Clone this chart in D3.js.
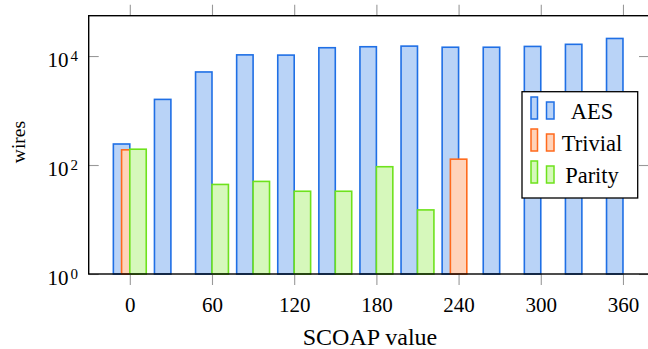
<!DOCTYPE html>
<html>
<head>
<meta charset="utf-8">
<script src="https://cdn.jsdelivr.net/npm/d3@7"></script>
<style>
  body { margin: 0; background: #fff; }
</style>
</head>
<body>
<div id="chart"></div>
<script>
// SCOAP value bins and the wire counts of each circuit
const categories = [0, 30, 60, 90, 120, 150, 180, 210, 240, 270, 300, 330, 360];
const aesValues = [243, 1600, 5100, 10500, 10400, 14200, 14800, 15200, 14500, 14500, 15000, 16400, 21000];
const trivialValues = [190, null, null, null, null, null, null, null, 128, null, null, null, null];
const parityValues = [195, null, 44, 50, 33, 33, 93, 15, null, null, null, null, null];
const seriesNames = ["AES", "Trivial", "Parity"];
const xTicks = [0, 60, 120, 180, 240, 300, 360];
const yTicks = [1, 100, 10000];
const yExponents = ["0", "2", "4"];

const FONT = "'Liberation Serif', 'Times New Roman', Times, serif";
const W = 648, H = 349;
const margin = {top: 15.7, right: -1, bottom: 75, left: 88.7};
const width = W - margin.left - margin.right,
    height = H - margin.top - margin.bottom;

const x = d3.scaleLinear().domain([-30, 379]).range([0, width]);
const y = d3.scaleLog().domain([1, Math.pow(10, 4.74)]).range([height, 0]);

const colors = [
  {stroke: "#1f6fe5", fill: "#b9d3f7"},
  {stroke: "#ff6a1c", fill: "#ffd3ba"},
  {stroke: "#6ee21c", fill: "#d6f8bb"}
];

const barW = x(12) - x(0);
const shifts = [-barW, -barW / 2, 0]; // left edge offset relative to category centre

const svg = d3.select("#chart").append("svg")
    .attr("width", W)
    .attr("height", H)
    .attr("font-family", FONT);

const g = svg.append("g")
    .attr("transform", "translate(" + margin.left + "," + margin.top + ")");

// bars
const seriesData = [aesValues, trivialValues, parityValues];
seriesData.forEach((vals, i) => {
  const rows = categories.map((c, j) => ({c: c, v: vals[j]})).filter(d => d.v != null);
  g.selectAll(".bar-" + i)
    .data(rows)
    .enter().append("rect")
      .attr("class", "bar-" + i)
      .attr("x", d => x(d.c) + shifts[i])
      .attr("y", d => y(d.v))
      .attr("width", barW)
      .attr("height", d => height - y(d.v))
      .attr("fill", colors[i].fill)
      .attr("stroke", colors[i].stroke)
      .attr("stroke-width", 1.6);
});

// axes
const tickColor = "#999";
const xBottom = g.append("g")
    .attr("transform", "translate(0," + height + ")")
    .call(d3.axisBottom(x).tickValues(xTicks).tickSize(11).tickSizeOuter(0).tickPadding(12));
const xTop = g.append("g")
    .call(d3.axisTop(x).tickValues(xTicks).tickSize(11).tickSizeOuter(0).tickFormat(""));
const yLeft = g.append("g")
    .call(d3.axisLeft(y).tickValues(yTicks).tickSize(-10).tickSizeOuter(0).tickFormat(""));
const yRight = g.append("g")
    .attr("transform", "translate(" + width + ",0)")
    .call(d3.axisRight(y).tickValues(yTicks).tickSize(-10).tickSizeOuter(0).tickFormat(""));

[xBottom, xTop, yLeft, yRight].forEach(a => {
  a.attr("font-family", FONT);
  a.select(".domain").remove();
  a.selectAll(".tick line").attr("stroke", tickColor).attr("stroke-width", 1.1);
});
xBottom.selectAll(".tick text")
    .attr("font-size", 21)
    .attr("fill", "#000");

// y tick labels as powers of ten
yTicks.forEach((t, i) => {
  const lab = g.append("text")
      .attr("x", 78 - margin.left)
      .attr("y", y(t) + 11)
      .attr("text-anchor", "end")
      .attr("font-size", 21);
  lab.append("tspan").text("10");
  lab.append("tspan")
      .attr("dx", 2)
      .attr("dy", -6)
      .attr("font-size", 15)
      .text(yExponents[i]);
});

// frame
g.append("rect")
    .attr("x", 0).attr("y", 0)
    .attr("width", width).attr("height", height)
    .attr("fill", "none")
    .attr("stroke", "#000")
    .attr("stroke-width", 1.4);

// axis labels
svg.append("text")
    .attr("x", 370)
    .attr("y", 345)
    .attr("text-anchor", "middle")
    .attr("font-size", 24)
    .text("SCOAP value");
svg.append("text")
    .attr("transform", "translate(25,142) rotate(-90)")
    .attr("text-anchor", "middle")
    .attr("font-size", 19.5)
    .text("wires");

// legend
const legend = svg.append("g").attr("transform", "translate(522,91.7)");
legend.append("rect")
    .attr("width", 115.7).attr("height", 106.3)
    .attr("fill", "#fff")
    .attr("stroke", "#000")
    .attr("stroke-width", 1.3);
seriesNames.forEach((name, i) => {
  const base = 27.3 + 32 * i;
  const row = legend.append("g");
  row.append("rect")
      .attr("x", 9).attr("y", base - 22)
      .attr("width", 6.5).attr("height", 22)
      .attr("fill", colors[i].fill).attr("stroke", colors[i].stroke).attr("stroke-width", 1.5);
  row.append("rect")
      .attr("x", 24.5).attr("y", base - 17)
      .attr("width", 7.5).attr("height", 17)
      .attr("fill", colors[i].fill).attr("stroke", colors[i].stroke).attr("stroke-width", 1.5);
  row.append("text")
      .attr("x", 70)
      .attr("y", base + 0.5)
      .attr("text-anchor", "middle")
      .attr("font-size", 22.5)
      .text(name);
});
</script>
</body>
</html>
